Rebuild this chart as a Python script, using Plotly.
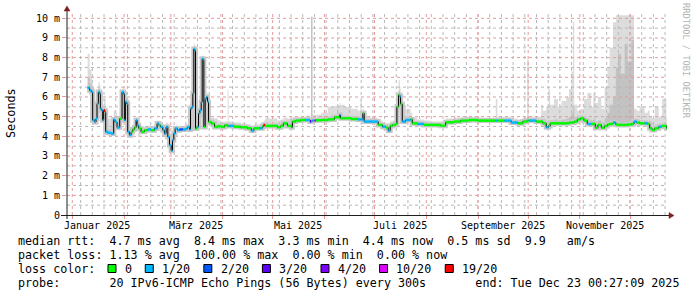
import pandas as pd
import plotly.graph_objects as go

# ---------------- data ----------------
# days since 2025-01-01
days_A = [9.2, 10.4, 11.6, 12.2, 13.4, 14.2, 14.8, 15.6, 16.4, 16.8,
          17.6, 18.2, 18.8, 19.6, 20.0, 21.2, 23.2, 24.8, 25.6, 26.8,
          28.4, 29.8, 30.6, 31.2, 31.8, 32.6, 33.2, 34.2, 35.2, 36.2,
          37.2, 38.2, 38.8, 39.8, 41.2, 43.2, 45.2, 47.2, 49.2, 50.8,
          51.8, 52.8, 54.2, 55.2, 56.2, 57.2, 58.2, 59.2, 60.0, 60.8,
          61.6, 63.0, 64.2, 66.2, 68.2, 69.2, 70.2, 70.8, 71.6, 72.2,
          72.8, 73.4, 73.8, 74.6, 75.6, 76.4, 77.2, 77.8, 78.4, 78.8,
          79.6, 80.4, 81.0, 81.6, 83.2, 85.2, 87.2, 89.2, 91.2, 93.0,
          93.6, 96.8]
median_A = [6.47, 6.33, 6.25, 4.82, 4.73, 4.90, 5.66, 6.25, 6.17, 5.40,
            5.32, 4.82, 5.32, 5.24, 4.23, 4.18, 4.14, 4.85, 4.73, 4.45,
            4.90, 6.25, 6.17, 4.82, 5.75, 5.66, 4.23, 4.06, 4.23, 4.35,
            4.45, 4.82, 4.56, 4.40, 4.23, 4.31, 4.35, 4.31, 4.40, 4.65,
            4.56, 4.48, 4.31, 4.14, 4.48, 3.97, 3.55, 3.27, 3.80, 4.14,
            4.40, 4.31, 4.35, 4.35, 4.40, 4.48, 4.35, 5.40, 5.49, 6.17,
            8.44, 8.36, 4.40, 4.48, 5.16, 5.32, 5.75, 7.94, 7.90, 4.48,
            5.91, 6.00, 5.75, 4.73, 4.65, 4.48, 4.51, 4.48, 4.56, 4.53,
            4.53, 4.49]
loss_A = [1, 1, 1, 1, 1, 1, 1, 1, 1, 1,
          1, 1, 6, 1, 1, 1, 1, 1, 1, 1,
          0, 1, 1, 1, 1, 1, 1, 1, 0, 0,
          0, 1, 1, 0, 0, 0, 1, 0, 1, 1,
          0, 1, 1, 1, 1, 1, 1, 1, 1, 1,
          1, 1, 2, 1, 1, 1, 1, 1, 1, 1,
          1, 1, 0, 1, 1, 1, 1, 1, 1, 0,
          1, 1, 1, 0, 0, 0, 0, 0, 0, 0,
          1, 0]
smoke_hi_A = [8.2, 7.4, 6.9, 5.2, 5.1, 5.4, 6.2, 6.75, 6.6, 5.9,
              5.8, 5.5, 5.9, 5.9, 5.0, 4.9, 4.5, 5.3, 5.2, 4.8,
              5.2, 6.4, 6.3, 5.0, 5.9, 5.8, 4.4, 4.3, 4.4, 4.5,
              4.6, 5.0, 4.7, 4.55, 4.45, 4.5, 4.55, 4.5, 4.6, 4.8,
              4.75, 4.7, 4.6, 4.5, 4.7, 4.2, 3.8, 3.5, 4.0, 4.3,
              4.55, 4.5, 4.5, 4.5, 4.55, 4.65, 4.6, 5.6, 5.7, 6.4,
              8.7, 8.6, 4.6, 4.7, 5.3, 5.5, 5.9, 8.1, 8.05, 4.6,
              6.1, 6.25, 6.0, 5.0, 4.95, 4.9, 4.8, 4.7, 4.75, 6.35,
              4.75, 4.7]
smoke_mid_A = [7.0, 6.7, 6.45, 4.95, 4.9, 5.05, 5.85, 6.45, 6.3, 5.55,
               5.5, 5.0, 5.5, 5.45, 4.4, 4.35, 4.3, 5.0, 4.9, 4.55,
               5.0, 6.35, 6.25, 4.9, 5.8, 5.75, 4.3, 4.15, 4.3, 4.4,
               4.5, 4.9, 4.6, 4.45, 4.3, 4.4, 4.42, 4.4, 4.45, 4.7,
               4.65, 4.55, 4.4, 4.3, 4.55, 4.05, 3.65, 3.35, 3.9, 4.2,
               4.45, 4.4, 4.4, 4.4, 4.45, 4.55, 4.45, 5.5, 5.55, 6.25,
               8.55, 8.45, 4.5, 4.55, 5.2, 5.4, 5.8, 8.0, 7.95, 4.55,
               6.0, 6.1, 5.85, 4.85, 4.8, 4.6, 4.6, 4.55, 4.62, 4.65,
               4.6, 4.55]

days_B = [100.8, 104.8, 107.2, 108.8, 111.8, 113.8, 114.6, 115.4, 119.8, 122.8,
          124.8, 126.4, 128.8, 131.2, 131.8, 133.8, 136.8, 139.8, 142.4, 143.0,
          143.8, 145.0, 145.8, 149.0, 153.0, 157.0, 160.0, 160.6, 163.0, 167.0,
          171.0, 172.6, 173.4, 174.0, 174.8, 178.8, 181.8, 183.2, 185.8, 187.8,
          189.2, 190.4, 191.8, 193.8, 194.4, 195.4, 196.2, 196.6, 197.6, 199.6,
          202.6, 203.6, 206.6, 210.6, 214.6, 220.6, 223.6, 228.6, 232.6, 237.6]
median_B = [4.46, 4.41, 4.29, 4.41, 4.41, 4.50, 4.58, 4.53, 4.53, 4.46,
            4.53, 4.66, 4.53, 4.46, 4.75, 4.80, 4.83, 4.83, 4.75, 4.78,
            4.80, 4.80, 4.82, 4.83, 4.86, 4.97, 5.08, 4.92, 4.92, 4.88,
            4.86, 4.86, 4.86, 5.17, 4.75, 4.75, 4.75, 4.58, 4.49, 4.44,
            4.29, 4.53, 4.58, 4.63, 5.50, 6.10, 6.02, 5.64, 4.75, 4.83,
            4.86, 4.66, 4.63, 4.58, 4.58, 4.54, 4.71, 4.75, 4.80, 4.83]
loss_B = [0, 0, 1, 0, 1, 0, 6, 0, 0, 0,
          0, 0, 0, 0, 0, 0, 0, 1, 3, 1,
          1, 5, 0, 0, 0, 0, 1, 0, 0, 0,
          1, 1, 1, 0, 1, 1, 1, 0, 1, 0,
          1, 0, 0, 0, 0, 0, 1, 0, 1, 1,
          0, 0, 1, 0, 0, 0, 0, 0, 0, 0]
smoke_hi_B = [4.65, 4.6, 4.5, 4.6, 4.6, 4.7, 4.8, 4.9, 4.9, 4.8,
              4.85, 4.95, 4.9, 4.8, 5.0, 5.0, 5.0, 5.05, 4.95, 10.08,
              5.1, 5.1, 5.1, 5.2, 5.5, 5.55, 5.7, 5.6, 5.5, 5.4,
              5.3, 5.85, 5.2, 5.4, 5.0, 4.95, 4.95, 4.8, 4.7, 4.65,
              4.5, 4.75, 4.8, 4.85, 5.8, 6.85, 6.5, 6.0, 5.6, 5.4,
              5.2, 4.95, 4.85, 4.8, 4.75, 4.75, 4.9, 4.95, 5.0, 5.0]
smoke_mid_B = [4.52, 4.48, 4.35, 4.48, 4.48, 4.55, 4.65, 4.6, 4.62, 4.55,
               4.6, 4.72, 4.6, 4.55, 4.82, 4.86, 4.88, 4.9, 4.8, 10.08,
               4.9, 4.9, 4.9, 4.92, 5.0, 5.1, 5.2, 5.05, 5.05, 5.0,
               4.95, 5.0, 4.95, 5.25, 4.82, 4.82, 4.82, 4.65, 4.55, 4.5,
               4.35, 4.6, 4.65, 4.7, 5.6, 6.3, 6.2, 5.8, 4.9, 4.95,
               4.95, 4.75, 4.7, 4.65, 4.65, 4.62, 4.78, 4.82, 4.86, 4.88]

days_C = [242.8, 248.8, 253.6, 254.6, 258.8, 262.8, 266.8, 269.8, 272.4, 273.4,
          277.8, 280.8, 281.8, 283.8, 285.2, 286.2, 288.5, 290.8, 293.0, 295.8,
          297.5, 299.0, 299.8, 300.6, 302.4, 304.4, 306.4, 308.4, 310.8, 312.0,
          313.2, 314.8, 316.8, 318.8, 320.5, 321.8, 323.8, 325.5, 326.8, 328.5,
          330.8, 332.5, 334.8, 336.4, 338.0, 339.8, 342.8, 344.6, 345.8, 347.2,
          348.8, 351.2, 353.2, 355.8, 356.4]
median_C = [4.80, 4.80, 4.80, 4.80, 4.80, 4.70, 4.66, 4.75, 4.80, 4.80,
            4.75, 4.75, 4.66, 4.46, 4.53, 4.66, 4.66, 4.66, 4.66, 4.66,
            4.70, 4.70, 4.70, 4.75, 4.86, 4.92, 4.80, 4.63, 4.63, 4.63,
            4.44, 4.58, 4.44, 4.53, 4.60, 4.63, 4.70, 4.60, 4.58, 4.58,
            4.58, 4.60, 4.63, 4.75, 4.70, 4.66, 4.66, 4.63, 4.41, 4.32,
            4.41, 4.49, 4.53, 4.41, 4.41]
loss_C = [0, 0, 1, 0, 1, 1, 0, 0, 0, 1,
          0, 0, 0, 1, 0, 0, 0, 0, 0, 0,
          0, 0, 0, 0, 0, 0, 0, 1, 0, 0,
          0, 0, 0, 0, 0, 0, 1, 0, 0, 0,
          0, 0, 0, 1, 0, 0, 1, 0, 0, 0,
          0, 1, 0, 0, 0]
smoke_hi_C = [4.95, 4.95, 5.9, 5.0, 5.0, 4.9, 4.85, 4.95, 7.9, 5.0,
              5.0, 5.6, 5.3, 5.5, 6.4, 5.6, 5.9, 5.5, 5.8, 6.0,
              6.4, 7.3, 9.83, 5.6, 5.3, 5.4, 5.9, 6.2, 5.5, 6.2,
              5.7, 6.0, 5.4, 6.5, 7.5, 8.5, 9.8, 10.15, 10.15, 10.15,
              10.15, 10.15, 10.15, 5.4, 5.3, 5.5, 5.2, 5.3, 5.0, 4.9,
              5.5, 5.0, 5.9, 4.9, 4.9]
smoke_mid_C = [4.86, 4.86, 4.9, 4.86, 4.86, 4.76, 4.72, 4.8, 5.0, 4.86,
               4.82, 4.9, 4.85, 4.7, 4.8, 4.8, 4.85, 4.8, 4.85, 4.9,
               5.0, 5.2, 5.5, 5.0, 5.0, 5.05, 4.95, 4.85, 4.8, 4.85,
               4.7, 4.8, 4.7, 4.9, 5.2, 5.6, 6.0, 7.5, 8.2, 7.2,
               8.7, 7.8, 8.9, 4.9, 4.85, 4.8, 4.8, 4.75, 4.55, 4.45,
               4.55, 4.6, 4.65, 4.55, 4.55]

loss_colors = ["#00ff00", "#00b8ff", "#0059ff", "#5e00ff", "#7e00ff", "#dd00ff", "#ff0000"]
loss_labels = ["0", "1/20", "2/20", "3/20", "4/20", "10/20", "19/20"]

month_starts = ["2025-01-01", "2025-02-01", "2025-03-01", "2025-04-01", "2025-05-01", "2025-06-01",
                "2025-07-01", "2025-08-01", "2025-09-01", "2025-10-01", "2025-11-01", "2025-12-01"]
label_dates = ["2025-01-16", "2025-03-16", "2025-05-16", "2025-07-16", "2025-09-16", "2025-11-16"]
label_texts = ["Januar 2025", "März 2025", "Mai 2025", "Juli 2025", "September 2025", "November 2025"]
y_tickvals = [0, 1, 2, 3, 4, 5, 6, 7, 8, 9, 10]
y_ticktext = ["0", "1 m", "2 m", "3 m", "4 m", "5 m", "6 m", "7 m", "8 m", "9 m", "10 m"]
y_minor = [0.5, 1.5, 2.5, 3.5, 4.5, 5.5, 6.5, 7.5, 8.5, 9.5]

legend_rows = [
    "median rtt:  4.7 ms avg  8.4 ms max  3.3 ms min  4.4 ms now  0.5 ms sd  9.9   am/s",
    "packet loss: 1.13 % avg  100.00 % max  0.00 % min  0.00 % now",
    "loss color:",
    "probe:       20 IPv6-ICMP Echo Pings (56 Bytes) every 300s       end: Tue Dec 23 00:27:09 2025",
]

# ---------------- assemble ----------------
days = days_A + days_B + days_C
median = median_A + median_B + median_C
loss = loss_A + loss_B + loss_C
smoke_hi = smoke_hi_A + smoke_hi_B + smoke_hi_C
smoke_mid = smoke_mid_A + smoke_mid_B + smoke_mid_C

base = pd.Timestamp("2025-01-01")
xt = [base + pd.Timedelta(days=d) for d in days]

W, H = 697, 297
L, R, T, B = 67, 30, 14, 82
PW, PH = W - L - R, H - T - B
PX_PER_MS = 19.67
Y_MAX = PH / PX_PER_MS


def px(x):
    return (x - L) / PW


def py(y):
    return (H - B - y) / PH


FONT = "DejaVu Sans Mono"
MGRID = "#e89898"
GRID = "#b8b8b8"

x_start = base - pd.Timedelta(days=3.17)
x_end = x_start + pd.Timedelta(days=PW / 1.6698)
mondays = [d.strftime("%Y-%m-%d") for d in pd.date_range("2025-01-06", "2025-12-22", freq="7D")]

fig = go.Figure()

# smoke: light band
fig.add_trace(go.Scatter(x=xt, y=median, mode="lines", line=dict(width=0, shape="hv"),
                         hoverinfo="skip", showlegend=False))
fig.add_trace(go.Scatter(x=xt, y=smoke_hi, mode="lines", line=dict(width=0, shape="hv"),
                         fill="tonexty", fillcolor="#dcdcdc", hoverinfo="skip", showlegend=False))
# smoke: darker band
fig.add_trace(go.Scatter(x=xt, y=median, mode="lines", line=dict(width=0, shape="hv"),
                         hoverinfo="skip", showlegend=False))
fig.add_trace(go.Scatter(x=xt, y=smoke_mid, mode="lines", line=dict(width=0, shape="hv"),
                         fill="tonexty", fillcolor="#c2c2c2", hoverinfo="skip", showlegend=False))


def grid_line(xs, ys, color):
    fig.add_trace(go.Scatter(x=xs, y=ys, mode="lines", line=dict(width=1, color=color, dash="dot"),
                             hoverinfo="skip", showlegend=False))


# minor grid (weekly verticals / half-ms horizontals)
for m in mondays:
    grid_line([m, m], [0, Y_MAX], GRID)
for v in y_minor:
    grid_line([x_start, x_end], [v, v], GRID)
# major grid (month starts / whole ms)
for m in month_starts:
    grid_line([m, m], [0, Y_MAX], MGRID)
for v in y_tickvals[1:]:
    grid_line([x_start, x_end], [v, v], MGRID)

# smoke core around median
fig.add_trace(go.Scatter(x=xt, y=median, mode="lines", line=dict(width=5, color="#c8c8c8", shape="hv"),
                         hoverinfo="skip", showlegend=False))
# black median step line
fig.add_trace(go.Scatter(x=xt, y=median, mode="lines", line=dict(width=1, color="#000000", shape="hv"),
                         hoverinfo="skip", showlegend=False))
# coloured (loss) segments
for li, col in enumerate(loss_colors):
    sx, sy = [], []
    for i in range(len(xt) - 1):
        if loss[i] == li:
            sx += [xt[i], xt[i + 1], None]
            sy += [median[i], median[i], None]
    if sx:
        fig.add_trace(go.Scatter(x=sx, y=sy, mode="lines", line=dict(width=2.5, color=col),
                                 hoverinfo="skip", showlegend=False))

fig.update_xaxes(type="date", range=[x_start, x_end], tickvals=month_starts, showticklabels=False,
                 showgrid=False, ticks="outside", ticklen=3, tickcolor=MGRID,
                 showline=False, zeroline=False)
fig.update_yaxes(range=[0, Y_MAX], tickvals=y_tickvals, ticktext=y_ticktext,
                 tickfont=dict(family=FONT, size=10, color="#000000"),
                 showgrid=False, ticks="outside", ticklen=4, tickcolor=MGRID,
                 showline=False, zeroline=False)

shapes = []
# axes lines
shapes.append(dict(type="line", xref="paper", yref="paper", x0=px(61), x1=px(669),
                   y0=py(215.5), y1=py(215.5), line=dict(color="#1f1f1f", width=1)))
shapes.append(dict(type="line", xref="paper", yref="paper", x0=px(67), x1=px(67),
                   y0=py(219), y1=py(11), line=dict(color="#1f1f1f", width=1)))
# arrows
shapes.append(dict(type="path", xref="paper", yref="paper",
                   path=f"M {px(669)},{py(212.5)} L {px(674)},{py(215.5)} L {px(669)},{py(218.5)} Z",
                   fillcolor="#801f1f", line=dict(color="#801f1f", width=0.5)))
shapes.append(dict(type="path", xref="paper", yref="paper",
                   path=f"M {px(64)},{py(11)} L {px(67)},{py(6)} L {px(70)},{py(11)} Z",
                   fillcolor="#801f1f", line=dict(color="#801f1f", width=0.5)))

annotations = []
for d, t in zip(label_dates, label_texts):
    annotations.append(dict(x=d, y=py(225.5), xref="x", yref="paper", text=t, showarrow=False,
                            xanchor="center", yanchor="middle",
                            font=dict(family=FONT, size=10, color="#000000")))

annotations.append(dict(x=px(11), y=py(113), xref="paper", yref="paper", text="Seconds",
                        textangle=-90, showarrow=False, xanchor="center", yanchor="middle",
                        font=dict(family=FONT, size=11.8, color="#000000")))
annotations.append(dict(x=px(686), y=py(61), xref="paper", yref="paper", text="RRDTOOL / TOBI OETIKER",
                        textangle=90, showarrow=False, xanchor="center", yanchor="middle",
                        font=dict(family=FONT, size=8.7, color="#b4b4b4")))

CW = 7.1
LX = 16.4
row_y = [240.5, 254.5, 268.5, 283.0]
for txt, ry in zip(legend_rows, row_y):
    annotations.append(dict(x=px(LX), y=py(ry), xref="paper", yref="paper",
                            text=txt.replace(" ", "\u00a0"), showarrow=False,
                            xanchor="left", yanchor="middle",
                            font=dict(family=FONT, size=11.7, color="#000000")))

col = 12.9
for lab, c in zip(loss_labels, loss_colors):
    bx = LX + col * CW
    shapes.append(dict(type="rect", xref="paper", yref="paper",
                       x0=px(bx), x1=px(bx + 8), y0=py(272.5), y1=py(264.5),
                       fillcolor=c, line=dict(color="#000000", width=1)))
    tcol = col + 2.1
    annotations.append(dict(x=px(LX + tcol * CW), y=py(268.5), xref="paper", yref="paper",
                            text=lab, showarrow=False, xanchor="left", yanchor="middle",
                            font=dict(family=FONT, size=11.7, color="#000000")))
    col = tcol + len(lab) + 2.15

fig.update_layout(width=W, height=H, margin=dict(l=L, r=R, t=T, b=B),
                  paper_bgcolor="#ffffff", plot_bgcolor="#ffffff",
                  font=dict(family=FONT, size=10, color="#000000"),
                  shapes=shapes, annotations=annotations, showlegend=False)

fig.write_html("out.html")
